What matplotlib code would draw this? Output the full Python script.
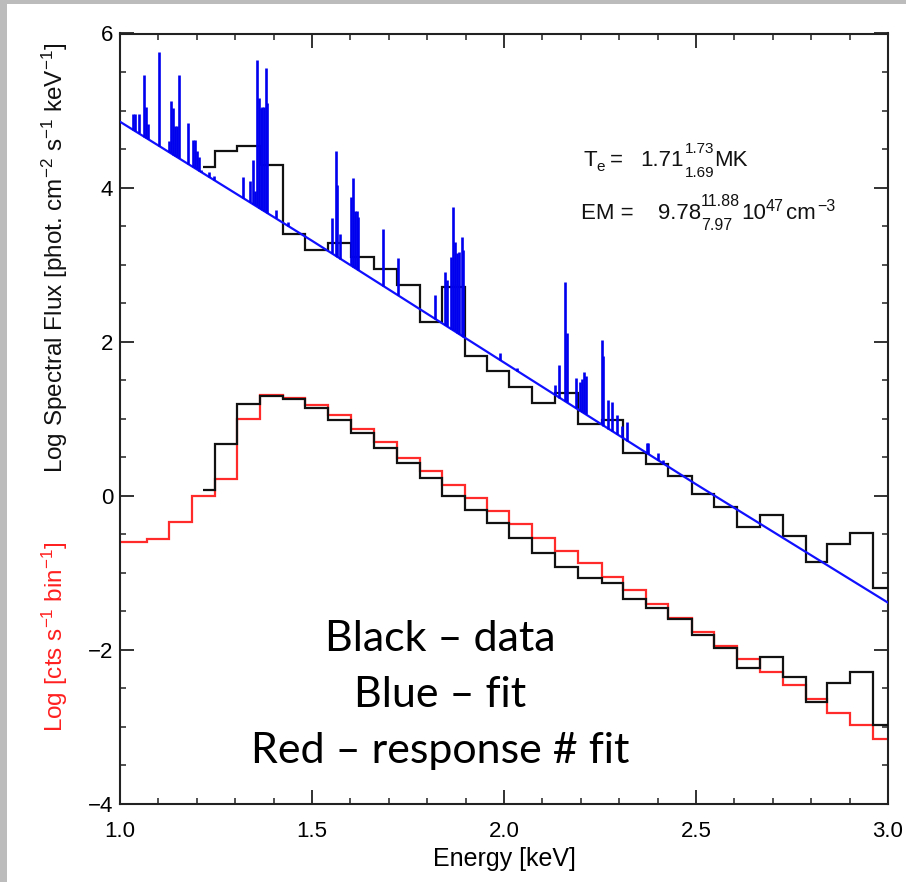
import numpy as np
import matplotlib
matplotlib.use("Agg")
import matplotlib.pyplot as plt
from matplotlib.patches import Rectangle
from matplotlib.ticker import MultipleLocator, FormatStrFormatter

plt.rcParams['font.family'] = ['Liberation Sans', 'DejaVu Sans']
plt.rcParams['mathtext.fontset'] = 'custom'
plt.rcParams['mathtext.rm'] = 'Liberation Sans'
plt.rcParams['mathtext.it'] = 'Liberation Sans:italic'
plt.rcParams['mathtext.bf'] = 'Liberation Sans:bold'
plt.rcParams['mathtext.default'] = 'regular'

# ---------------- data ----------------
# model continuum (blue line), log spectral flux
cont_energy = [1.0, 1.5, 2.0, 2.5, 3.0]
cont_flux = [4.855, 3.31, 1.73, 0.15, -1.387]

# emission lines on top of the continuum: energy [keV] and peak log flux
line_energy = [1.035, 1.039, 1.049, 1.063, 1.068, 1.074, 1.102, 1.128, 1.133, 1.139,
               1.144, 1.149, 1.154, 1.178, 1.189, 1.195, 1.200, 1.206, 1.210, 1.232,
               1.244, 1.321, 1.339, 1.346, 1.351, 1.356, 1.361, 1.366, 1.371, 1.375,
               1.379, 1.384, 1.406, 1.438, 1.551, 1.5625, 1.566, 1.574, 1.601, 1.606,
               1.611, 1.616, 1.621, 1.686, 1.723, 1.820, 1.846, 1.852, 1.862, 1.867,
               1.872, 1.878, 1.884, 1.890, 1.894, 1.990, 2.035, 2.133, 2.144, 2.159,
               2.163, 2.1875, 2.198, 2.203, 2.208, 2.213, 2.254, 2.259, 2.272, 2.280,
               2.295, 2.3065, 2.321, 2.3715, 2.376, 2.402, 2.415]
line_peak = [4.96, 4.96, 4.96, 5.46, 5.04, 4.83, 5.76, 4.60, 5.12, 5.03,
             4.80, 4.80, 5.46, 4.84, 4.62, 4.62, 4.47, 4.40, 4.23, 4.20,
             4.15, 4.14, 4.08, 4.36, 3.95, 5.66, 5.16, 5.03, 5.04, 5.04,
             5.55, 5.10, 3.71, 3.56, 3.60, 4.47, 4.03, 3.40, 3.88, 4.12,
             3.70, 3.70, 3.62, 3.46, 3.08, 2.61, 2.91, 2.80, 3.10, 3.75,
             3.30, 3.15, 3.17, 3.36, 3.19, 1.85, 1.66, 1.44, 1.70, 2.78,
             2.11, 1.53, 1.48, 1.52, 1.61, 1.55, 2.02, 1.81, 1.24, 1.22,
             1.05, 0.90, 0.96, 0.68, 0.68, 0.55, 0.47]

# response-folded fit (red), log counts per bin
fit_edges = [1.0, 1.070, 1.128, 1.187, 1.247, 1.304, 1.365, 1.424, 1.482, 1.542,
             1.601, 1.662, 1.721, 1.781, 1.838, 1.898, 1.955, 2.014, 2.074, 2.134,
             2.193, 2.254, 2.311, 2.369, 2.428, 2.489, 2.548, 2.608, 2.667, 2.727,
             2.787, 2.842, 2.901, 2.962, 3.0]
fit_counts = [-0.604, -0.565, -0.344, 0.001, 0.218, 0.993, 1.308, 1.273, 1.178, 1.049,
              0.867, 0.694, 0.495, 0.322, 0.140, -0.032, -0.197, -0.370, -0.545, -0.710,
              -0.876, -1.050, -1.223, -1.404, -1.590, -1.764, -1.946, -2.122, -2.283, -2.456,
              -2.641, -2.815, -2.975, -3.160]

# observed data (black): spectral flux (upper) and counts (lower)
data_edges = [1.217, 1.247, 1.304, 1.365, 1.424, 1.482, 1.542, 1.601, 1.662, 1.721,
              1.781, 1.838, 1.898, 1.955, 2.014, 2.074, 2.134, 2.193, 2.254, 2.311,
              2.369, 2.428, 2.489, 2.548, 2.608, 2.667, 2.727, 2.787, 2.842, 2.901,
              2.962, 3.0]
data_flux = [4.27, 4.47, 4.54, 4.29, 3.40, 3.19, 3.285, 3.095, 2.95, 2.73,
             2.26, 2.706, 1.81, 1.623, 1.416, 1.20, 1.338, 0.928, 0.984, 0.552,
             0.409, 0.257, 0.023, -0.15, -0.41, -0.253, -0.52, -0.855, -0.626, -0.487,
             -1.193]
data_counts = [0.075, 0.672, 1.188, 1.30, 1.26, 1.14, 0.99, 0.81, 0.62, 0.42,
               0.227, 0.0, -0.184, -0.35, -0.55, -0.74, -0.92, -1.07, -1.128, -1.343,
               -1.46, -1.603, -1.806, -1.98, -2.239, -2.088, -2.355, -2.672, -2.433, -2.29,
               -2.975]

x_ticks = [1.0, 1.5, 2.0, 2.5, 3.0]
y_ticks = [-4, -2, 0, 2, 4, 6]

# ---------------- figure ----------------
W, H = 906, 882
fig = plt.figure(figsize=(W / 100, H / 100), dpi=100)
fig.patch.set_facecolor('white')
# grey slide frame
fig.add_artist(Rectangle((0, 0), 7 / W, 1, transform=fig.transFigure,
                         facecolor='#bcbcbc', edgecolor='none', zorder=0))
fig.add_artist(Rectangle((0, 1 - 4 / H), 1, 4 / H, transform=fig.transFigure,
                         facecolor='#bcbcbc', edgecolor='none', zorder=0))

ax = fig.add_axes([120 / W, 1 - 804 / H, 768 / W, 770.5 / H])
ax.set_xlim(1.0, 3.0)
ax.set_ylim(-4, 6)

lw = 1.6
# red response fit
ax.stairs(fit_counts, fit_edges, baseline=None, color='#ff2a2a', lw=lw, zorder=2)
# black data
ax.stairs(data_counts, data_edges, baseline=None, color='#111111', lw=lw, zorder=3)
ax.stairs(data_flux, data_edges, baseline=None, color='#111111', lw=lw, zorder=3)
# blue fit: continuum + lines
ax.plot(cont_energy, cont_flux, color='#1010ff', lw=lw, zorder=4)
base = np.interp(line_energy, cont_energy, cont_flux)
ax.vlines(line_energy, base, line_peak, color='#0000ee', lw=1.9, zorder=4)

# axes styling
for sp in ax.spines.values():
    sp.set_linewidth(1.5)
    sp.set_color('#222222')
ax.xaxis.set_minor_locator(MultipleLocator(0.1))
ax.yaxis.set_minor_locator(MultipleLocator(0.5))
ax.set_xticks(x_ticks)
ax.set_yticks(y_ticks)
ax.xaxis.set_major_formatter(FormatStrFormatter('%.1f'))
ax.tick_params(which='both', direction='in', top=True, right=True, color='#222222')
ax.tick_params(which='major', length=10, width=1.3, labelsize=16)
ax.tick_params(which='minor', length=4.3, width=1.1)
ax.tick_params(axis='x', which='major', pad=12)
ax.tick_params(axis='y', which='major', pad=5)

ax.set_xlabel('Energy [keV]', fontsize=18, labelpad=4)

fig.text(55 / W, 1 - 258 / H,
         'Log Spectral Flux [phot. cm$^{-2}$ s$^{-1}$ keV$^{-1}$]',
         rotation=90, ha='center', va='center', fontsize=17.5, color='#111111')
fig.text(55 / W, 1 - 637 / H, 'Log [cts s$^{-1}$ bin$^{-1}$]',
         rotation=90, ha='center', va='center', fontsize=17.5, color='#ff2020')


def px(xp, yp):
    return xp / W, 1 - yp / H


renderer = fig.canvas.get_renderer()


def put(s, xp, yp, fs):
    t = fig.text(*px(xp, yp), s, fontsize=fs, ha='left', va='baseline', color='#111111')
    return t.get_window_extent(renderer).width


def flow(tokens, x0, yb, main_fs=16, scr_fs=11, up=13, down=11, sup_up=8):
    """tokens: ('m', text) main, ('sub', text), ('sup', text), ('stack', sup, sub), ('gap', px)"""
    x = x0
    for tok in tokens:
        kind = tok[0]
        if kind == 'm':
            x += put(tok[1], x, yb, main_fs)
        elif kind == 'sub':
            x += put(tok[1], x, yb + 5, scr_fs)
        elif kind == 'sup':
            x += put(tok[1], x, yb - sup_up, scr_fs)
        elif kind == 'stack':
            w1 = put(tok[1], x, yb - up, scr_fs)
            w2 = put(tok[2], x, yb + down, scr_fs)
            x += max(w1, w2)
        elif kind == 'gap':
            x += tok[1]


# fit parameters
flow([('m', 'T'), ('sub', 'e'), ('gap', 5), ('m', '=')], 583, 166)
flow([('m', '1.71'), ('gap', 1), ('stack', '1.73', '1.69'), ('m', 'MK')], 640, 166)
flow([('m', 'EM =')], 581, 219)
flow([('m', '9.78'), ('stack', '11.88', '7.97'), ('gap', 1), ('m', '10'), ('sup', '47'),
      ('gap', 2), ('m', 'cm'), ('gap', 1), ('sup', '\u22123')], 658, 219, scr_fs=11.5)

# slide overlay text
for txt, yb in [('Black \u2013 data', 651), ('Blue \u2013 fit', 707),
                ('Red \u2013 response # fit', 763)]:
    fig.text(*px(440, yb), txt, fontsize=31, family=['Lato', 'DejaVu Sans'],
             ha='center', va='baseline', color='black')

fig.savefig('out.png', dpi=100)
